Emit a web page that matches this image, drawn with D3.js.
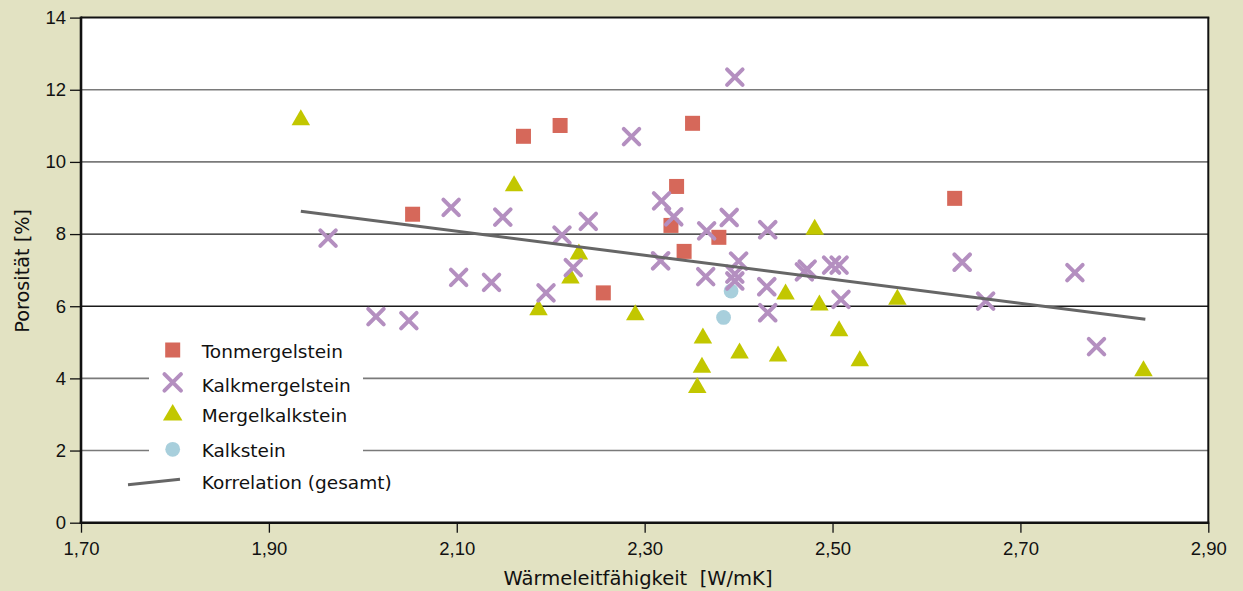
<!DOCTYPE html>
<html>
<head>
<meta charset="utf-8">
<script src="https://cdn.jsdelivr.net/npm/d3@7"></script>
<style>
  html, body { margin: 0; padding: 0; background: #e2e2c2; }
  svg { display: block; }
</style>
</head>
<body>
<svg id="chart" width="1243" height="591"></svg>
<script>
// ---- data ----
const xTicks = [1.7, 1.9, 2.1, 2.3, 2.5, 2.7, 2.9];
const xTickLabels = ["1,70", "1,90", "2,10", "2,30", "2,50", "2,70", "2,90"];
const yTicks = [0, 2, 4, 6, 8, 10, 12, 14];
const yTickLabels = ["0", "2", "4", "6", "8", "10", "12", "14"];

const seriesNames = ["Tonmergelstein", "Kalkmergelstein", "Mergelkalkstein", "Kalkstein", "Korrelation (gesamt)"];

const tonmergelstein = [
  [2.053, 8.55], [2.171, 10.71], [2.210, 11.01], [2.351, 11.07], [2.334, 9.32],
  [2.328, 8.24], [2.379, 7.91], [2.342, 7.52], [2.256, 6.37], [2.630, 8.99]
];
const kalkmergelstein = [
  [1.963, 7.89], [2.014, 5.71], [2.049, 5.60], [2.094, 8.74], [2.102, 6.80],
  [2.137, 6.66], [2.149, 8.47], [2.195, 6.37], [2.212, 7.97], [2.224, 7.07],
  [2.240, 8.35], [2.286, 10.70], [2.318, 8.92], [2.331, 8.48], [2.317, 7.26],
  [2.366, 8.09], [2.365, 6.82], [2.390, 8.46], [2.396, 12.35], [2.400, 7.25],
  [2.396, 6.89], [2.396, 6.70], [2.431, 8.12], [2.430, 6.54], [2.431, 5.82],
  [2.470, 6.95], [2.473, 7.03], [2.499, 7.14], [2.507, 7.14], [2.509, 6.19],
  [2.638, 7.22], [2.663, 6.14], [2.758, 6.93], [2.781, 4.88]
];
const mergelkalkstein = [
  [1.934, 11.24], [2.161, 9.41], [2.230, 7.52], [2.221, 6.85], [2.187, 5.97],
  [2.290, 5.83], [2.362, 5.19], [2.361, 4.38], [2.356, 3.82], [2.401, 4.77],
  [2.442, 4.69], [2.450, 6.41], [2.481, 8.20], [2.486, 6.10], [2.507, 5.39],
  [2.529, 4.56], [2.569, 6.26], [2.831, 4.28]
];
const kalkstein = [
  [2.392, 6.42], [2.384, 5.69]
];
const korrelation = [
  [1.934, 8.63], [2.833, 5.64]
];

// ---- layout ----
const svg = d3.select("#chart");
const W = 1243, H = 591;
const pLeft = 81, pRight = 1208.3, pTop = 17.6, pBottom = 522.7;

const colors = {
  ton: "#d6685a",
  kalkm: "#b48fc0",
  mergel: "#c2c700",
  kalk: "#a8cfdc",
  line: "#666666"
};

svg.append("rect").attr("width", W).attr("height", H).attr("fill", "#e2e2c2");

const x = d3.scaleLinear().domain([1.7, 2.9]).range([pLeft, pRight]);
const y = d3.scaleLinear().domain([0, 14]).range([pBottom, pTop]);

// plot background
svg.append("rect")
  .attr("x", pLeft).attr("y", pTop)
  .attr("width", pRight - pLeft).attr("height", pBottom - pTop)
  .attr("fill", "#ffffff");

// gridlines
svg.append("g").selectAll("line")
  .data(yTicks.filter(v => v > 0 && v < 14))
  .join("line")
  .attr("x1", pLeft).attr("x2", pRight)
  .attr("y1", d => y(d)).attr("y2", d => y(d))
  .attr("stroke", d => (d === 6 || d === 8) ? "#1a1a1a" : "#7a7a7a")
  .attr("stroke-width", d => (d === 6 || d === 8) ? 1.3 : 1.6);

// legend background (interrupts gridlines)
svg.append("rect")
  .attr("x", 149).attr("y", 334)
  .attr("width", 214).attr("height", 164)
  .attr("fill", "#ffffff");

// axes
const tickFont = "Liberation Sans, Arial, sans-serif";
const yAxis = d3.axisLeft(y)
  .tickValues(yTicks)
  .tickFormat((d, i) => yTickLabels[i])
  .tickSize(11).tickPadding(4).tickSizeOuter(0);
const gy = svg.append("g").attr("transform", `translate(${pLeft},0)`).call(yAxis);
gy.select(".domain").remove();
gy.selectAll(".tick line").attr("stroke", "#111").attr("stroke-width", 1.3);
gy.selectAll(".tick text").attr("fill", "#111")
  .style("font-family", tickFont).style("font-size", "18.5px");

const xAxis = d3.axisBottom(x)
  .tickValues(xTicks)
  .tickFormat((d, i) => xTickLabels[i])
  .tickSize(10).tickPadding(9).tickSizeOuter(0);
const gx = svg.append("g").attr("transform", `translate(0,${pBottom})`).call(xAxis);
gx.select(".domain").remove();
gx.selectAll(".tick line").attr("stroke", "#111").attr("stroke-width", 1.3);
gx.selectAll(".tick text").attr("fill", "#111")
  .style("font-family", tickFont).style("font-size", "18.5px");

// frame
svg.append("line").attr("x1", pLeft).attr("x2", pRight + 1).attr("y1", pTop).attr("y2", pTop)
  .attr("stroke", "#111").attr("stroke-width", 2);
svg.append("line").attr("x1", pRight).attr("x2", pRight).attr("y1", pTop).attr("y2", pBottom)
  .attr("stroke", "#111").attr("stroke-width", 2);
svg.append("line").attr("x1", pLeft).attr("x2", pLeft).attr("y1", pTop - 1).attr("y2", pBottom + 1.3)
  .attr("stroke", "#111").attr("stroke-width", 2.6);
svg.append("line").attr("x1", pLeft - 1.3).attr("x2", pRight + 1).attr("y1", pBottom).attr("y2", pBottom)
  .attr("stroke", "#111").attr("stroke-width", 2.6);

// axis titles
const textFont = "DejaVu Sans, Verdana, sans-serif";
svg.append("text")
  .attr("x", 638).attr("y", 585)
  .attr("text-anchor", "middle")
  .style("white-space", "pre")
  .style("font-family", textFont).style("font-size", "19.5px")
  .attr("fill", "#111")
  .text("Wärmeleitfähigkeit  [W/mK]");
svg.append("text")
  .attr("transform", "translate(29.3,270.8) rotate(-90)")
  .attr("text-anchor", "middle")
  .style("font-family", textFont).style("font-size", "19.3px")
  .attr("fill", "#111")
  .text("Porosität [%]");

// marker helpers
const triPath = (w, h) => `M0,${-h / 2}L${w / 2},${h / 2}L${-w / 2},${h / 2}Z`;
const crossPath = (s) => `M${-s / 2},${-s / 2}L${s / 2},${s / 2}M${-s / 2},${s / 2}L${s / 2},${-s / 2}`;

const gM = svg.append("g");
// triangles
gM.append("g").selectAll("path").data(mergelkalkstein).join("path")
  .attr("transform", d => `translate(${x(d[0])},${y(d[1])})`)
  .attr("d", triPath(18.5, 16))
  .attr("fill", colors.mergel);
// circles
gM.append("g").selectAll("circle").data(kalkstein).join("circle")
  .attr("cx", d => x(d[0])).attr("cy", d => y(d[1])).attr("r", 7.4)
  .attr("fill", colors.kalk);
// squares
gM.append("g").selectAll("rect").data(tonmergelstein).join("rect")
  .attr("x", d => x(d[0]) - 7.5).attr("y", d => y(d[1]) - 7.5)
  .attr("width", 15).attr("height", 15)
  .attr("fill", colors.ton);
// crosses
gM.append("g").selectAll("path").data(kalkmergelstein).join("path")
  .attr("transform", d => `translate(${x(d[0])},${y(d[1])})`)
  .attr("d", crossPath(15.5))
  .attr("stroke", colors.kalkm).attr("stroke-width", 4).attr("stroke-linecap", "round")
  .attr("fill", "none");

// correlation line
svg.append("path")
  .datum(korrelation)
  .attr("d", d3.line().x(d => x(d[0])).y(d => y(d[1])))
  .attr("stroke", colors.line).attr("stroke-width", 3).attr("fill", "none");

// legend
const lg = svg.append("g");
const lx = 172.7, tx = 201.7;
lg.append("rect").attr("x", lx - 7.5).attr("y", 350 - 7.5).attr("width", 15).attr("height", 15).attr("fill", colors.ton);
lg.append("path").attr("transform", `translate(${lx},382.3)`).attr("d", crossPath(16.5))
  .attr("stroke", colors.kalkm).attr("stroke-width", 4).attr("stroke-linecap", "round").attr("fill", "none");
lg.append("path").attr("transform", `translate(${lx},412.3)`).attr("d", triPath(19.5, 16.5))
  .attr("fill", colors.mergel);
lg.append("circle").attr("cx", lx).attr("cy", 449.3).attr("r", 7.4).attr("fill", colors.kalk);
lg.append("line").attr("x1", 128).attr("y1", 484.7).attr("x2", 180).attr("y2", 479.3)
  .attr("stroke", colors.line).attr("stroke-width", 3);

const legendBaselines = [357.7, 391.7, 421.7, 456.7, 489];
lg.selectAll("text.lt").data(seriesNames).join("text").attr("class", "lt")
  .attr("x", tx).attr("y", (d, i) => legendBaselines[i])
  .style("font-family", textFont).style("font-size", "18.5px")
  .attr("fill", "#111")
  .text(d => d);
</script>
</body>
</html>
